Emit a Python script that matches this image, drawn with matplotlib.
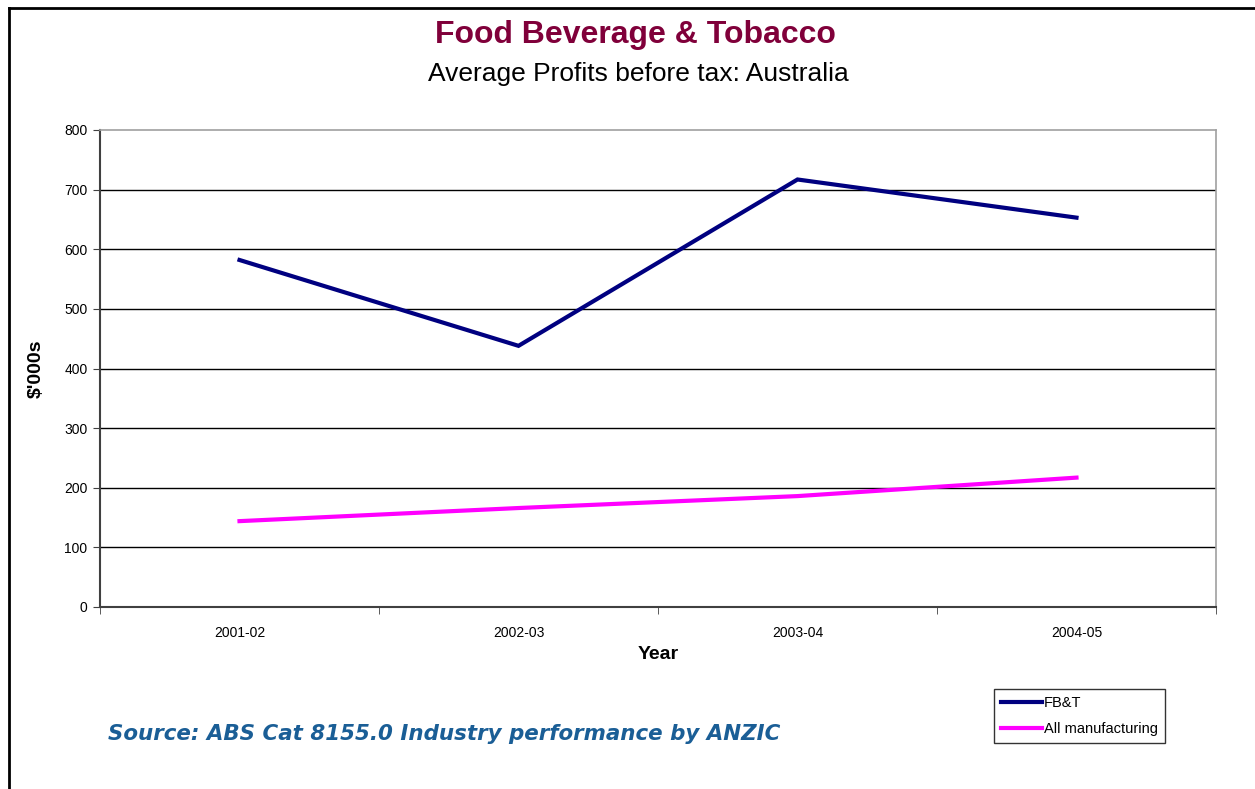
import numpy as np
import matplotlib.pyplot as plt
from matplotlib.lines import Line2D

years = ['2001-02', '2002-03', '2003-04', '2004-05']
fbt = [582, 438, 717, 653]
all_manuf = [144, 166, 186, 217]
yticks = [0, 100, 200, 300, 400, 500, 600, 700, 800]

plt.rcParams['font.family'] = 'Liberation Sans'

fig = plt.figure(figsize=(12.55, 7.89), dpi=100)
W, H = 1255, 789
ax = fig.add_axes([100 / W, 1 - 607 / H, 1116 / W, 477 / H])

x = np.arange(len(years))
ax.plot(x, fbt, color='#000080', lw=3, label='FB&T', solid_joinstyle='miter')
ax.plot(x, all_manuf, color='#ff00ff', lw=3, label='All manufacturing')

ax.set_xlim(-0.5, len(years) - 0.5)
ax.set_ylim(0, 800)
ax.set_yticks(yticks)
ax.set_yticklabels([str(v) for v in yticks], fontsize=10)
ax.set_xticks(x)
ax.set_xticklabels(years, fontsize=10)
ax.set_xticks(np.arange(-0.5, len(years)), minor=True)
ax.tick_params(axis='x', which='major', length=0, pad=14)
ax.tick_params(axis='x', which='minor', length=5, direction='out', color='#404040')
ax.tick_params(axis='y', length=5, direction='out', color='#404040', pad=4)

for v in yticks[1:-1]:
    ax.axhline(v, color='black', lw=1, zorder=0)

for s in ['top', 'right']:
    ax.spines[s].set_color('#a0a0a0')
    ax.spines[s].set_linewidth(1.2)
for s in ['left', 'bottom']:
    ax.spines[s].set_color('#404040')
    ax.spines[s].set_linewidth(1.5)

ax.set_ylabel("$'000s", fontsize=14, fontweight='bold', labelpad=14)
ax.set_xlabel('Year', fontsize=14, fontweight='bold', labelpad=4)

fig.text(635 / W, 1 - 35 / H, 'Food Beverage & Tobacco', ha='center', va='center',
         fontsize=23, fontweight='bold', color='#80003a')
fig.text(638 / W, 1 - 74 / H, 'Average Profits before tax: Australia', ha='center',
         va='center', fontsize=19, color='black')
fig.text(108 / W, 1 - 734 / H, 'Source: ABS Cat 8155.0 Industry performance by ANZIC',
         ha='left', va='center', fontsize=15.4, fontweight='bold', style='italic',
         color='#1a5e96', family='DejaVu Sans')

handles = [Line2D([], [], color='#000080', lw=3), Line2D([], [], color='#ff00ff', lw=3)]
leg = fig.legend(handles, ['FB&T', 'All manufacturing'], loc='upper left',
                 bbox_to_anchor=(994 / W, 1 - 689 / H), fontsize=10.5, frameon=True,
                 fancybox=False, edgecolor='black', handlelength=2.8, handletextpad=0.1,
                 borderpad=0.5, labelspacing=0.8, borderaxespad=0)
leg.get_frame().set_linewidth(1)

# outer frame (left and top)
fig.add_artist(Line2D([9 / W, 9 / W], [0, 1 - 8 / H], color='black', lw=2))
fig.add_artist(Line2D([9 / W, 1], [1 - 8 / H, 1 - 8 / H], color='black', lw=2))

fig.savefig('out.png', dpi=100)
